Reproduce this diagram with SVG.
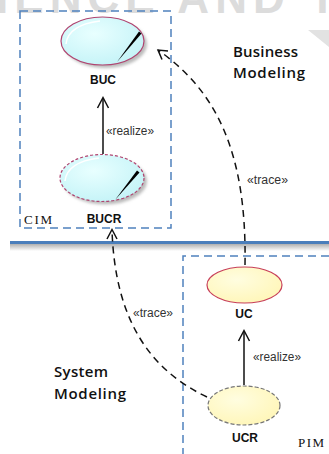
<svg xmlns="http://www.w3.org/2000/svg" width="329" height="454" viewBox="0 0 329 454">
<defs>
  <style>
    .box{fill:none;stroke:#4f81bd;stroke-width:1.5;stroke-dasharray:8,5}
    .lbl{font-family:"Liberation Sans",Arial,sans-serif;font-weight:bold;font-size:12px;fill:#111;text-anchor:middle}
    .st{font-family:"Liberation Sans",Arial,sans-serif;font-size:12px;fill:#333}
    .ser{font-family:"Liberation Serif","Times New Roman",serif;font-size:13px;fill:#111}
    .big{font-family:"Open Sans","Liberation Sans",sans-serif;font-weight:600;font-size:15px;fill:#111}
    .solid{fill:none;stroke:#111;stroke-width:1.5}
    .dash{fill:none;stroke:#111;stroke-width:1.5;stroke-dasharray:7,5}
    .head{fill:none;stroke:#111;stroke-width:1.5;stroke-linejoin:miter}
  </style>
  <radialGradient id="cyan" cx="0.4" cy="0.35" r="0.7">
    <stop offset="0" stop-color="#e8ffff"/>
    <stop offset="1" stop-color="#c4f3f7"/>
  </radialGradient>
  <radialGradient id="yel" cx="0.4" cy="0.35" r="0.7">
    <stop offset="0" stop-color="#fffde0"/>
    <stop offset="1" stop-color="#fff6b8"/>
  </radialGradient>
  <linearGradient id="shade" x1="0" y1="0" x2="0" y2="1">
    <stop offset="0" stop-color="#b0b0b0"/>
    <stop offset="1" stop-color="#ffffff"/>
  </linearGradient>
  <filter id="blur" x="-20%" y="-20%" width="140%" height="140%">
    <feGaussianBlur stdDeviation="1.5"/>
  </filter>
</defs>
<rect width="329" height="454" fill="#fff"/>
<!-- watermark -->
<g id="watermark">
  <text x="-4" y="13" font-family="Liberation Sans,Arial,sans-serif" font-weight="bold" font-size="44" fill="#dcdcdc" textLength="340" lengthAdjust="spacing">IENCE AND T</text>
  <polygon points="308,30 329,30 329,47" fill="#e2e2e2"/>
</g>
<!-- containers -->
<g id="CIM">
  <rect class="box" x="20" y="11" width="151" height="217"/>
  <text class="ser" x="24" y="224" textLength="28">CIM</text>
</g>
<g id="divider">
  <rect x="10" y="244" width="319" height="7" fill="url(#shade)"/>
  <line x1="10" y1="242.5" x2="329" y2="242.5" stroke="#4a7ebb" stroke-width="3"/>
</g>
<g id="PIM">
  <path class="box" d="M183,456 V256 H331"/>
  <text class="ser" x="298" y="447" textLength="26">PIM</text>
</g>
<g id="labels">
  <text class="big" x="233" y="57" textLength="65">Business</text>
  <text class="big" x="233" y="78" textLength="72">Modeling</text>
  <text class="big" x="54" y="377" textLength="54">System</text>
  <text class="big" x="54" y="399" textLength="72">Modeling</text>
</g>
<!-- nodes -->
<g id="BUC">
  <ellipse cx="105.5" cy="44" rx="41.5" ry="24" fill="#bbb" filter="url(#blur)"/>
  <ellipse cx="102.5" cy="41" rx="41.5" ry="24" fill="url(#cyan)" stroke="#b04470" stroke-width="1.2"/>
  <path d="M66,44 Q68,25 100,21" fill="none" stroke="#fff" stroke-width="1.5"/>
  <polygon points="139,31.5 141.5,33.5 117,62" fill="#000"/>
  <text class="lbl" x="103" y="84">BUC</text>
</g>
<g id="BUCR">
  <ellipse cx="105" cy="181" rx="42" ry="23.5" fill="#bbb" filter="url(#blur)"/>
  <ellipse cx="102" cy="178" rx="42" ry="23.5" fill="url(#cyan)" stroke="#b04470" stroke-width="1.2" stroke-dasharray="3,2"/>
  <path d="M65,181 Q67,162 99,158" fill="none" stroke="#fff" stroke-width="1.5"/>
  <polygon points="137,170.5 139.5,172.5 115,200" fill="#000"/>
  <text class="lbl" x="104" y="223">BUCR</text>
</g>
<g id="UC">
  <ellipse cx="244.5" cy="285" rx="37.5" ry="18" fill="url(#yel)" stroke="#c8405a" stroke-width="1.2"/>
  <text class="lbl" x="244" y="318">UC</text>
</g>
<g id="UCR">
  <ellipse cx="244" cy="405.5" rx="36" ry="19.5" fill="url(#yel)" stroke="#777" stroke-width="1.2" stroke-dasharray="4,2"/>
  <text class="lbl" x="245" y="442">UCR</text>
</g>
<!-- connectors -->
<g id="connectors">
  <line class="solid" x1="103" y1="154" x2="103" y2="98"/>
  <polyline class="head" points="97.5,108 103,97.5 108.5,108"/>
  <text class="st" x="106" y="135" textLength="48" lengthAdjust="spacingAndGlyphs">«realize»</text>

  <line class="solid" x1="244" y1="385" x2="244" y2="331"/>
  <polyline class="head" points="238.5,341 244,330.5 249.5,341"/>
  <text class="st" x="253" y="361" textLength="48" lengthAdjust="spacingAndGlyphs">«realize»</text>

  <path class="dash" d="M245,265 C247,150 215,90 158,50"/>
  <polyline class="head" points="168,51 158,50 162,59.5"/>
  <text class="st" x="247" y="184" textLength="41" lengthAdjust="spacingAndGlyphs">«trace»</text>

  <path class="dash" d="M207,397 C150,370 115,320 112,230"/>
  <polyline class="head" points="107,239 112,229.5 117,239"/>
  <text class="st" x="133" y="317" textLength="40" lengthAdjust="spacingAndGlyphs">«trace»</text>
</g>
</svg>
